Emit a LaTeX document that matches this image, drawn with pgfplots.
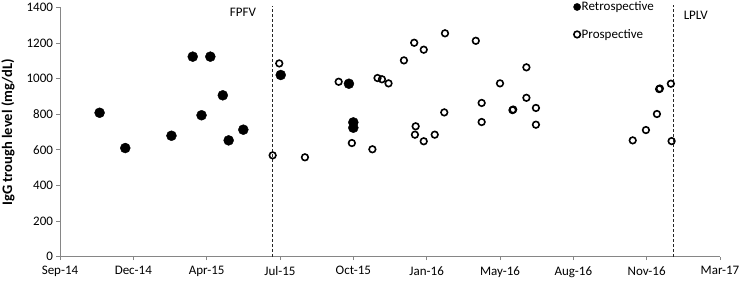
\documentclass[border=0pt]{standalone}
\usepackage{pgfplots}
\pgfplotsset{compat=1.18}
\usepackage{fontspec}
\setmainfont{Carlito}
\definecolor{axgray}{RGB}{134,134,134}
\begin{document}
\begin{tikzpicture}
\begin{axis}[name=ax, scale only axis, width=660pt, height=249.4pt,
  xmin=0, xmax=900, ymin=0, ymax=1400, clip=false,
  axis x line*=bottom, axis y line*=left,
  axis line style={axgray, line width=0.8pt, -},
  tick align=outside, major tick length=3.5pt,
  tick style={axgray, line width=0.8pt},
  xtick={0,100,...,900},
  xticklabels={Sep-14,Dec-14,Apr-15,Jul-15,Oct-15,Jan-16,May-16,Aug-16,Nov-16,Mar-17},
  ytick={0,200,...,1400},
  minor tick num=0,
  /pgf/number format/assume math mode=true,
  /pgf/number format/1000 sep={},
  ticklabel style={font=\fontsize{13}{15}\selectfont, black},
  xticklabel style={yshift=-2.5pt},
  ylabel={\textbf{IgG trough level (mg/dL)}},
  ylabel style={at={(axis description cs:-0.0788,0.5)}, anchor=center, font=\fontsize{14.5}{16}\selectfont},
  legend style={draw=none, fill=none, at={(axis cs:700,1438)}, anchor=north west,
    font=\fontsize{13}{15}\selectfont, row sep=15pt, inner sep=0pt,
    nodes={inner sep=1pt}},
  legend cell align=left,
  legend image code/.code={\draw[#1, mark repeat=2, mark phase=2] plot coordinates {(0pt,0pt)(5pt,0pt)(10pt,0pt)};},
]
\addplot[only marks, mark=*, mark size=5pt, black, mark options={fill=black, draw=black, line width=0.4pt},
  legend image post style={mark size=3.6pt}]
  coordinates {(54,808) (89,610) (152,679) (181,1123) (193,794) (205,1123) (222,906) (230,653) (250,713) (301,1020) (394,971) (400,754) (400,724)};
\addlegendentry{Retrospective}
\addplot[only marks, mark=o, mark size=3.3pt, black, mark options={line width=1.6pt, draw=black}]
  coordinates {(290,569) (299,1085) (334,558) (380,982) (398,638) (426,603) (433,1003) (439,996) (448,973) (469,1102) (483,1201) (496,1162) (525,1254) (567,1212) (600,973) (636,1063) (636,892) (649,835) (617,823) (618,826) (575,863) (524,810) (485,732) (484,685) (496,648) (511,685) (575,756) (649,741) (781,653) (799,711) (814,801) (817,941) (818,944) (833,971) (834,649)};
\addlegendentry{Prospective}
\addplot[black!85, line width=0.8pt, dash pattern=on 3pt off 2pt, forget plot] coordinates {(289,0) (289,1410)};
\addplot[black!85, line width=0.8pt, dash pattern=on 3pt off 2pt, forget plot] coordinates {(836.4,0) (836.4,1415)};
\node[font=\fontsize{13}{15}\selectfont] at (axis cs:249.5,1371) {FPFV};
\node[font=\fontsize{13}{15}\selectfont] at (axis cs:867,1357) {LPLV};
\end{axis}
\pgfresetboundingbox
\path (ax.south west) ++(-60pt,-24.3pt) rectangle ++(741pt,281pt);
\end{tikzpicture}
\end{document}
